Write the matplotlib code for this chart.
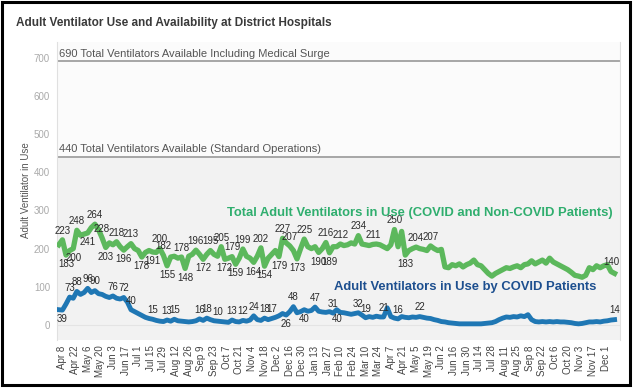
import matplotlib.pyplot as plt
from matplotlib.patches import Rectangle
import pandas as pd

TOTAL_COLOR = '#5cb85c'
COVID_COLOR = '#1f77b4'
TOTAL_TEXT = '#2fae6e'
COVID_TEXT = '#1d4f8f'
LABEL_COLOR = '#2a2a2a'

# readings every 4 days starting Apr 4 2020
start = '2020-04-04'
step = '4D'
total = [210, 223, 183, 195, 200, 248, 235, 238, 241, 255,
         264, 250, 228, 203, 215, 210, 218, 205, 196, 205,
         213, 200, 195, 178, 190, 195, 191, 190, 200, 182,
         155, 178, 180, 175, 178, 148, 180, 185, 196, 185,
         172, 185, 195, 185, 180, 205, 172, 175, 179, 159,
         175, 199, 180, 175, 164, 180, 202, 154, 175, 185,
         195, 179, 227, 215, 207, 195, 173, 200, 225, 205,
         200, 205, 190, 200, 216, 189, 205, 205, 212, 208,
         210, 215, 212, 234, 212, 210, 208, 211, 212, 210,
         205, 200, 210, 250, 205, 245, 183, 195, 200, 204,
         200, 198, 195, 207, 200, 195, 198, 152, 150, 158,
         155, 160, 152, 158, 162, 170, 158, 155, 145, 135,
         128, 135, 140, 145, 150, 148, 152, 155, 150, 158,
         160, 168, 160, 165, 170, 162, 175, 165, 160, 155,
         150, 145, 138, 130, 128, 125, 130, 150, 145, 155,
         150, 155, 158, 140, 135]
covid = [40, 39, 55, 73, 70, 88, 80, 85, 96, 85,
         90, 82, 80, 75, 72, 76, 70, 68, 72, 60,
         40, 35, 30, 25, 20, 17, 15, 12, 10, 9,
         13, 10, 15, 11, 10, 9, 8, 9, 11, 16,
         12, 18, 14, 11, 10, 9, 8, 7, 13, 9,
         8, 12, 10, 13, 24, 14, 12, 18, 14, 17,
         20, 24, 30, 26, 35, 48, 32, 35, 40, 36,
         38, 47, 36, 34, 33, 35, 31, 40, 33, 32,
         30, 28, 30, 32, 26, 19, 22, 20, 23, 21,
         21, 45, 22, 18, 16, 22, 20, 19, 21, 20,
         22, 20, 18, 17, 14, 12, 9, 8, 6, 5,
         4, 3, 3, 3, 3, 3, 3, 3, 4, 5,
         6, 9, 14, 18, 21, 20, 22, 21, 24, 22,
         27, 14, 9, 8, 9, 8, 9, 8, 9, 8,
         8, 7, 6, 4, 3, 4, 6, 8, 8, 9,
         8, 10, 11, 13, 14]

# which readings carry a value label
total_up = [1, 5, 10, 12, 16, 20, 28, 29, 34, 38, 42, 45, 48, 51, 56,
            62, 64, 68, 74, 78, 83, 87, 93, 99, 103, 153]
total_down = [2, 4, 8, 13, 18, 23, 26, 30, 35, 40, 46, 49, 54, 57, 61,
              66, 72, 75, 96]
covid_up = [3, 5, 8, 10, 15, 18, 20, 26, 30, 32, 39, 41, 44, 48, 51, 54,
            57, 59, 65, 71, 76, 83, 85, 90, 94, 100, 154]
covid_down = [1, 63, 68, 77]

capacity = [690, 440]
capacity_labels = ['690 Total Ventilators Available Including Medical Surge',
                   '440 Total Ventilators Available (Standard Operations)']

dates = pd.date_range(start, periods=len(total), freq=step)
ticks = pd.date_range('2020-04-08', '2021-12-01', freq='14D')
tick_labels = [f'{d:%b} {d.day}' for d in ticks]

plt.rcParams['font.family'] = ['Liberation Sans', 'DejaVu Sans']
fig = plt.figure(figsize=(6.33, 3.88), dpi=100)
ax = fig.add_axes([57 / 633, 1 - 340 / 388, 563 / 633, 298 / 388])
ax.set_facecolor('#fbfbfb')
ax.set_ylim(-39.3, 741)
ax.set_xlim(pd.Timestamp('2020-04-02'), pd.Timestamp('2021-12-17'))

ax.axhspan(-39.3, capacity[1], color='#f2f2f2', zorder=0)
ax.axhline(0, color='#e4e4e4', lw=0.8, zorder=1)
for val, txt in zip(capacity, capacity_labels):
    ax.axhline(val, color='#a6a6a6', lw=1.4, zorder=2)
    ax.text(0.004, val + 7, txt, transform=ax.get_yaxis_transform(),
            fontsize=8, color='#555555', va='bottom', ha='left')

ax.plot(dates, total, color=TOTAL_COLOR, lw=3.8, zorder=3, solid_joinstyle='round')
ax.plot(dates, covid, color=COVID_COLOR, lw=3.5, zorder=4, solid_joinstyle='round')

for series, ups, downs in [(total, total_up, total_down), (covid, covid_up, covid_down)]:
    for i in ups:
        ax.annotate(str(series[i]), (dates[i], series[i]), xytext=(0, 3),
                    textcoords='offset points', ha='center', va='bottom',
                    fontsize=7, color=LABEL_COLOR, zorder=5)
    for i in downs:
        ax.annotate(str(series[i]), (dates[i], series[i]), xytext=(0, -3),
                    textcoords='offset points', ha='center', va='top',
                    fontsize=7, color=LABEL_COLOR, zorder=5)

ax.text(0.645, 0.426, 'Total Adult Ventilators in Use (COVID and Non-COVID Patients)',
        transform=ax.transAxes, ha='center', va='center', fontsize=9.4,
        fontweight='bold', color=TOTAL_TEXT, zorder=6)
ax.text(0.725, 0.178, 'Adult Ventilators in Use by COVID Patients',
        transform=ax.transAxes, ha='center', va='center', fontsize=9.4,
        fontweight='bold', color=COVID_TEXT, zorder=6)

ax.set_yticks(range(0, 701, 100))
ax.tick_params(axis='y', length=0, labelsize=7, labelcolor='#aaaaaa', pad=5)
ax.set_xticks(ticks)
ax.set_xticklabels(tick_labels, rotation=90)
ax.tick_params(axis='x', length=0, labelsize=7, labelcolor='#444444', pad=4)
for side in ['top', 'bottom']:
    ax.spines[side].set_visible(False)
for side in ['left', 'right']:
    ax.spines[side].set_color('#e0e0e0')

fig.text(26 / 633, 1 - 190 / 388, 'Adult Ventilator in Use', rotation=90,
         ha='center', va='center', fontsize=7, color='#555555')
fig.text(16 / 633, 1 - 23 / 388, 'Adult Ventilator Use and Availability at District Hospitals',
         ha='left', va='center', fontsize=8.5, fontweight='bold', color='#3a3a3a')

fig.patches.append(Rectangle((0.003, 0.007), 0.992, 0.988, transform=fig.transFigure,
                             fill=False, lw=2.2, ec='black'))

fig.savefig('out.png', dpi=100)
